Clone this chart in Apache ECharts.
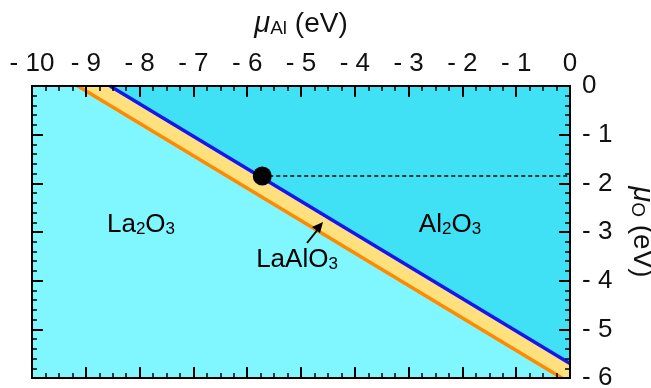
<!DOCTYPE html>
<html>
<head>
<meta charset="utf-8">
<script src="https://cdn.jsdelivr.net/npm/echarts@6/dist/echarts.min.js"></script>
<style>
  html, body { margin: 0; padding: 0; background: #fff; }
  #chart { width: 651px; height: 388px; }
</style>
</head>
<body>
<div id="chart"></div>
<script>
// phase boundaries (mu_Al, mu_O) in eV
const blueLine = [[-8.55, 0], [0, -5.7]];
const orangeLine = [[-9.15, 0], [-0.15, -6]];
const la2o3Region = [[-10, 0], [-9.15, 0], [-0.15, -6], [-10, -6]];
const laalo3Region = [[-9.15, 0], [-8.55, 0], [0, -5.7], [0, -6], [-0.15, -6]];
const al2o3Region = [[-8.55, 0], [0, 0], [0, -5.7]];
const dotPoint = [[-5.72, -1.85]];
const dashLine = [[-5.72, -1.85], [0, -1.85]];

const FONT = "'Liberation Sans', Arial, sans-serif";

const tickFmt = v => (v < 0 ? "- " + Math.abs(v) : String(v));

const regionSeries = (pts, color) => ({
  type: "custom",
  silent: true,
  z: 1,
  renderItem: (params, api) => {
    if (params.dataIndex !== 0) return;
    return {
      type: "polygon",
      shape: { points: pts.map(p => api.coord(p)) },
      style: { fill: color },
    };
  },
  data: pts,
});

const commonAxis = {
  type: "value",
  interval: 1,
  z: 10,
  axisLine: { show: true, onZero: false, lineStyle: { color: "#000", width: 2 } },
  axisTick: { show: true, inside: true, length: 11, lineStyle: { color: "#000", width: 2 } },
  minorTick: { show: true, length: 5, lineStyle: { color: "#000", width: 1.5 } },
  splitLine: { show: false },
};

const labelStyle = { color: "#111", fontSize: 26, fontFamily: FONT, formatter: tickFmt };

const nameRich = {
  mu: { fontSize: 29, fontStyle: "italic", fontFamily: FONT, color: "#111", verticalAlign: "bottom", lineHeight: 34 },
  sub: { fontSize: 19, fontFamily: FONT, color: "#111", verticalAlign: "bottom", lineHeight: 29 },
  n: { fontSize: 28, fontFamily: FONT, color: "#111", verticalAlign: "bottom", lineHeight: 34 },
};

const regionRich = {
  n: { fontSize: 26, fontFamily: FONT, color: "#111", verticalAlign: "bottom", lineHeight: 32 },
  s: { fontSize: 17, fontFamily: FONT, color: "#111", verticalAlign: "bottom", lineHeight: 27 },
};

const option = {
  animation: false,
  grid: { left: 32, right: 81, top: 86, bottom: 10, outerBoundsMode: "none", containLabel: false },
  xAxis: [
    {
      ...commonAxis,
      position: "top",
      min: -10,
      max: 0,
      minorTick: { ...commonAxis.minorTick, splitNumber: 4 },
      axisLabel: { ...labelStyle, margin: 9 },
      name: "{mu|μ}{sub|Al}{n| (eV)}",
      nameLocation: "middle",
      nameGap: 48,
      nameTextStyle: { rich: nameRich },
    },
    {
      ...commonAxis,
      position: "bottom",
      min: -10,
      max: 0,
      minorTick: { ...commonAxis.minorTick, splitNumber: 4 },
      axisLabel: { show: false },
    },
  ],
  yAxis: [
    {
      ...commonAxis,
      position: "right",
      min: -6,
      max: 0,
      minorTick: { ...commonAxis.minorTick, splitNumber: 5 },
      axisLabel: { ...labelStyle, margin: 12 },
      name: "{mu|μ}{sub|O}{n| (eV)}",
      nameLocation: "middle",
      nameRotate: -90,
      nameGap: 58,
      nameTextStyle: { rich: nameRich },
    },
    {
      ...commonAxis,
      position: "left",
      min: -6,
      max: 0,
      minorTick: { ...commonAxis.minorTick, splitNumber: 5 },
      axisLabel: { show: false },
    },
  ],
  series: [
    regionSeries(la2o3Region, "#80F7FE"),
    regionSeries(laalo3Region, "#FFE07E"),
    regionSeries(al2o3Region, "#40E1F5"),
    {
      type: "line",
      data: orangeLine,
      symbol: "none",
      z: 3,
      lineStyle: { color: "#FF8A00", width: 3.5 },
    },
    {
      type: "line",
      data: blueLine,
      symbol: "none",
      z: 3,
      lineStyle: { color: "#1515EE", width: 3.5 },
    },
    {
      type: "line",
      data: dashLine,
      symbol: "none",
      z: 3,
      lineStyle: { color: "#000", width: 1.5, type: [4, 3] },
    },
    {
      type: "scatter",
      data: dotPoint,
      symbolSize: 19,
      z: 4,
      itemStyle: { color: "#000", opacity: 1 },
    },
  ],
  graphic: [
    {
      type: "text",
      x: 141,
      y: 222,
      z: 20,
      style: { text: "{n|La}{s|2}{n|O}{s|3}", rich: regionRich, align: "center", verticalAlign: "middle" },
    },
    {
      type: "text",
      x: 450,
      y: 222,
      z: 20,
      style: { text: "{n|Al}{s|2}{n|O}{s|3}", rich: regionRich, align: "center", verticalAlign: "middle" },
    },
    {
      type: "text",
      x: 297,
      y: 257,
      z: 20,
      style: { text: "{n|LaAlO}{s|3}", rich: regionRich, align: "center", verticalAlign: "middle" },
    },
    {
      type: "line",
      z: 20,
      shape: { x1: 307, y1: 243, x2: 319, y2: 228 },
      style: { stroke: "#000", lineWidth: 2 },
    },
    {
      type: "polygon",
      z: 20,
      shape: { points: [[323, 222], [312, 227], [320, 233]] },
      style: { fill: "#000" },
    },
  ],
};

const myChart = echarts.init(document.getElementById("chart"));
myChart.setOption(option);
</script>
</body>
</html>
